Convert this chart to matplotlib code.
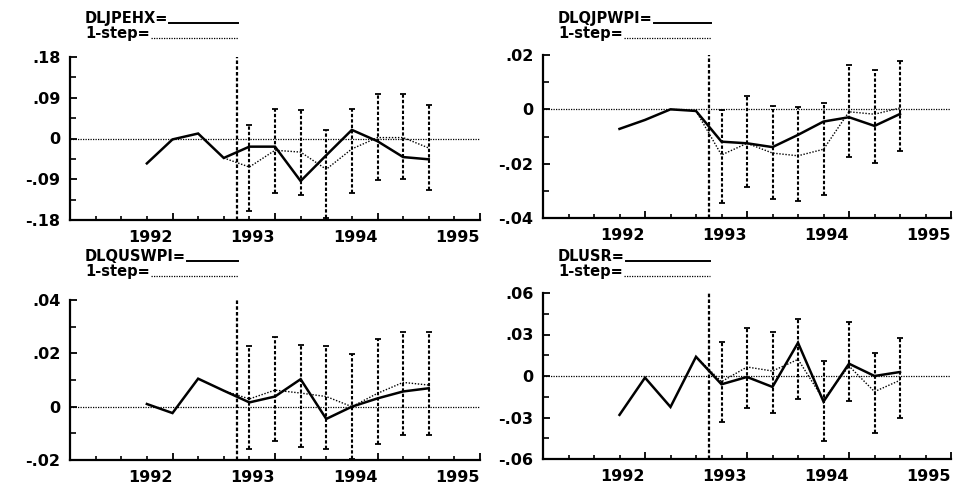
import matplotlib
matplotlib.use('Agg')
import matplotlib.pyplot as plt
from matplotlib.lines import Line2D
import matplotlib.transforms as mtransforms
import numpy as np

# ---------------- data ----------------
dates = [1991.75, 1992.0, 1992.25, 1992.5, 1992.75, 1993.0, 1993.25, 1993.5,
         1993.75, 1994.0, 1994.25, 1994.5]
forecast_start = 1992.625
n_fc = 8  # number of 1-step forecasts (last 8 quarters)

names = ["DLJPEHX", "DLQJPWPI", "DLQUSWPI", "DLUSR"]

jpehx_actual = [-0.055, -0.002, 0.011, -0.043, -0.018, -0.018, -0.094, -0.037,
                0.019, -0.006, -0.041, -0.046]
jpehx_fc = [-0.063, -0.026, -0.030, -0.068, -0.023, 0.002, 0.002, -0.021]
jpehx_hi = [0.029, 0.066, 0.064, 0.018, 0.066, 0.099, 0.099, 0.075]
jpehx_lo = [-0.161, -0.120, -0.125, -0.175, -0.120, -0.091, -0.089, -0.113]

qjpwpi_actual = [-0.0072, -0.0039, 0.0000, -0.0006, -0.0119, -0.0125, -0.0139,
                 -0.0094, -0.0045, -0.0029, -0.0061, -0.0017]
qjpwpi_fc = [-0.0168, -0.0125, -0.0161, -0.0171, -0.0147, -0.0009, -0.0018, 0.0005]
qjpwpi_hi = [-0.0002, 0.0049, 0.0013, 0.0007, 0.0022, 0.0163, 0.0144, 0.0177]
qjpwpi_lo = [-0.0345, -0.0286, -0.0329, -0.0337, -0.0317, -0.0176, -0.0198, -0.0155]

qus_actual = [0.0010, -0.0024, 0.0105, 0.0060, 0.0016, 0.0038, 0.0103, -0.0046,
              0.0000, 0.0031, 0.0057, 0.0069]
qus_fc = [0.0029, 0.0062, 0.0051, 0.0038, 0.0000, 0.0050, 0.0091, 0.0081]
qus_hi = [0.0227, 0.0262, 0.0233, 0.0227, 0.0196, 0.0252, 0.0279, 0.0279]
qus_lo = [-0.0158, -0.0127, -0.0151, -0.0158, -0.0195, -0.0139, -0.0106, -0.0106]

usr_actual = [-0.0281, -0.0012, -0.0224, 0.0139, -0.0060, -0.0007, -0.0079, 0.0240,
              -0.0185, 0.0089, 0.0000, 0.0029]
usr_fc = [-0.0041, 0.0065, 0.0036, 0.0120, -0.0170, 0.0072, -0.0113, -0.0031]
usr_hi = [0.0245, 0.0349, 0.0317, 0.0409, 0.0108, 0.0392, 0.0163, 0.0272]
usr_lo = [-0.0332, -0.0228, -0.0264, -0.0168, -0.0469, -0.0180, -0.0409, -0.0305]

year_ticks = [1992, 1993, 1994, 1995]
year_labels = ["1992", "1993", "1994", "1995"]

yticks_list = [
    [-0.18, -0.09, 0.0, 0.09, 0.18],
    [-0.04, -0.02, 0.0, 0.02],
    [-0.02, 0.0, 0.02, 0.04],
    [-0.06, -0.03, 0.0, 0.03, 0.06],
]
ylabels_list = [
    ["-.18", "-.09", "0", ".09", ".18"],
    ["-.04", "-.02", "0", ".02"],
    ["-.02", "0", ".02", ".04"],
    ["-.06", "-.03", "0", ".03", ".06"],
]
yminor_step = [0.045, 0.01, 0.01, 0.015]

series = [
    (jpehx_actual, jpehx_fc, jpehx_hi, jpehx_lo),
    (qjpwpi_actual, qjpwpi_fc, qjpwpi_hi, qjpwpi_lo),
    (qus_actual, qus_fc, qus_hi, qus_lo),
    (usr_actual, usr_fc, usr_hi, usr_lo),
]

# ---------------- layout ----------------
W, H = 960, 487
fig = plt.figure(figsize=(W / 100, H / 100), dpi=100)
fig.patch.set_facecolor("white")

# axes boxes in pixels: left, top, right, bottom
boxes = [
    (70, 57, 480, 220),
    (543, 55, 951, 218),
    (70, 300, 480, 460),
    (543, 293, 951, 459),
]
# legend: text left, baseline1, baseline2, line end (pixels from top-left)
leg_pos = [
    (85, 23, 38, 238),
    (558, 23, 38, 711),
    (85, 261, 276, 238),
    (558, 261, 276, 710),
]

FONT = dict(family="DejaVu Sans", weight="bold", size=11.5)
LFONT = dict(family="DejaVu Sans", weight="bold", size=10.5)
lw_dash = (0, (1.6, 1.0))

# shift x tick labels so they end just right of their tick (as in the original)
xlab_offset = mtransforms.ScaledTranslation(4 / 100, 0, fig.dpi_scale_trans)

axes = []
for i, (l, t, r, b) in enumerate(boxes):
    ax = fig.add_axes([l / W, (H - b) / H, (r - l) / W, (b - t) / H])
    axes.append(ax)
    actual, fc, hi, lo = series[i]
    fc_dates = dates[-n_fc:]

    ax.set_xlim(1991.0, 1995.0)
    yt = yticks_list[i]
    ax.set_ylim(yt[0], yt[-1])

    # zero reference line
    ax.axhline(0, color="black", lw=0.9, ls=(0, (1, 1)), zorder=1)
    # forecast start marker
    ax.axvline(forecast_start, color="black", lw=1.6, ls=lw_dash, zorder=2)
    # error bands (+/- 2 SE)
    ax.vlines(fc_dates, lo, hi, color="black", lw=1.5, linestyles=lw_dash, zorder=2)
    ax.plot(fc_dates, hi, ls="none", marker="_", ms=5, mew=1.3, color="black", zorder=3)
    ax.plot(fc_dates, lo, ls="none", marker="_", ms=5, mew=1.3, color="black", zorder=3)
    # 1-step forecasts (joined from last in-sample actual)
    k = len(dates) - n_fc - 1
    ax.plot([dates[k]] + fc_dates, [actual[k]] + fc, color="black", lw=1.0,
            ls=(0, (1, 1.2)), zorder=3)
    # actual values
    ax.plot(dates, actual, color="black", lw=1.8, solid_joinstyle="miter", zorder=4)

    # spines
    for s in ["top", "right"]:
        ax.spines[s].set_visible(False)
    for s in ["left", "bottom"]:
        ax.spines[s].set_linewidth(1.6)
        ax.spines[s].set_clip_on(False)

    ax.set_xticks(year_ticks)
    ax.set_xticklabels(year_labels, fontdict=FONT)
    for lab in ax.get_xticklabels():
        lab.set_horizontalalignment("right")
        lab.set_transform(lab.get_transform() + xlab_offset)
    ax.set_xticks(np.arange(1991.0, 1995.01, 0.25), minor=True)
    ax.set_yticks(yt)
    ax.set_yticklabels(ylabels_list[i], fontdict=FONT)
    ax.set_yticks(np.arange(yt[0], yt[-1] + 1e-9, yminor_step[i]), minor=True)
    ax.tick_params(axis="x", which="major", direction="in", length=5, width=1.3, pad=7)
    ax.tick_params(axis="x", which="minor", direction="in", length=3, width=1.2)
    ax.tick_params(axis="y", which="major", direction="in", length=5, width=1.3, pad=7)
    ax.tick_params(axis="y", which="minor", direction="in", length=4, width=1.2)
    ax.set_facecolor("white")

# legends (drawn as text + sample line, like the original)
fig.canvas.draw()
renderer = fig.canvas.get_renderer()
for i, (x0, y1, y2, xend) in enumerate(leg_pos):
    t1 = fig.text(x0 / W, 1 - y1 / H, names[i] + "=", ha="left", va="baseline", **LFONT)
    t2 = fig.text(x0 / W, 1 - y2 / H, "1-step=", ha="left", va="baseline", **LFONT)
    e1 = t1.get_window_extent(renderer)
    e2 = t2.get_window_extent(renderer)
    fig.add_artist(Line2D([e1.x1 / W + 0.001, xend / W], [1 - (y1 - 0.5) / H] * 2,
                          transform=fig.transFigure, color="black", lw=1.4))
    fig.add_artist(Line2D([e2.x1 / W + 0.001, xend / W], [1 - (y2 - 0.5) / H] * 2,
                          transform=fig.transFigure, color="black", lw=0.9,
                          ls=(0, (1, 1))))

fig.savefig("out.png", dpi=100, facecolor="white")
